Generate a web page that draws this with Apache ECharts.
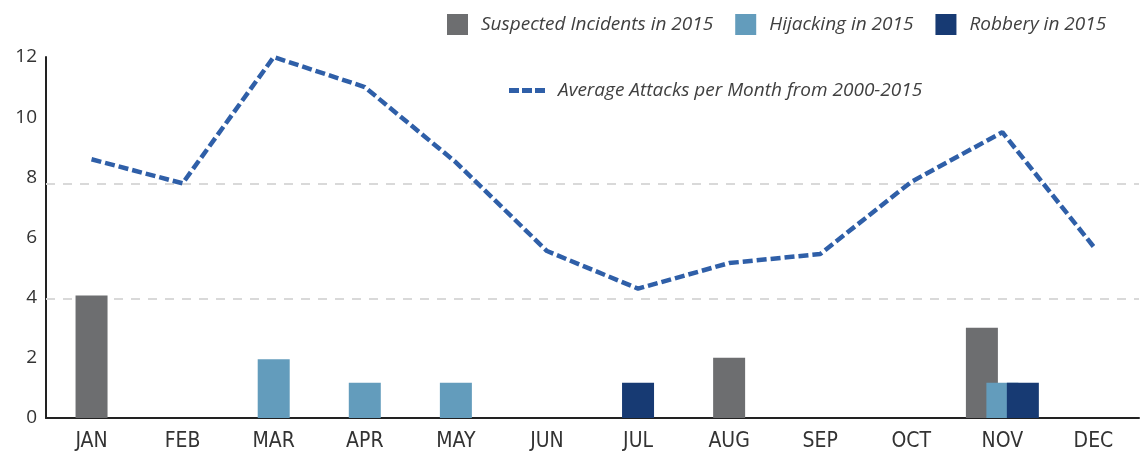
<!DOCTYPE html>
<html>
<head>
<meta charset="utf-8">
<script src="https://cdn.jsdelivr.net/npm/echarts@6/dist/echarts.min.js"></script>
<style>
html,body{margin:0;padding:0;background:#fff;}
#chart{width:1142px;height:452px;}
</style>
</head>
<body>
<div id="chart"></div>
<script>
const months = ['JAN','FEB','MAR','APR','MAY','JUN','JUL','AUG','SEP','OCT','NOV','DEC'];
const yTicks = [0, 2, 4, 6, 8, 10, 12];
const suspected = [4.07, null, null, null, null, null, null, 2.0, null, null, 3.0, null];
const hijacking = [null, null, 1.95, 1.17, 1.17, null, null, null, null, null, 1.17, null];
const robbery   = [null, null, null, null, null, null, 1.17, null, null, null, 1.17, null];
const avgAttacks = [8.6, 7.8, 12.0, 11.0, 8.5, 5.55, 4.3, 5.15, 5.45, 7.85, 9.5, 5.7];
const guideLines = [3.95, 7.78];
const groupedMonth = 'NOV';

const names = ['Suspected Incidents in 2015', 'Hijacking in 2015', 'Robbery in 2015'];
const lineName = 'Average Attacks per Month from 2000-2015';
const colors = ['#6d6e70', '#639cbc', '#173a73'];
const lineColor = '#2f5fa8';

const gi = months.indexOf(groupedMonth);
function single(arr){ return arr.map((v,i)=> i===gi ? null : v); }
function grouped(arr){ return arr.map((v,i)=> i===gi ? v : null); }

const bars = [suspected, hijacking, robbery];
const series = [];
// guide lines, drawn beneath bars
series.push({
  name: 'guides', type: 'line', data: [], z: 1, silent: true,
  markLine: {
    z: 1, silent: true, symbol: 'none', label: {show: false}, animation: false,
    lineStyle: {color: '#d9d9d9', width: 2, type: [9, 8]},
    data: guideLines.map(v => ({yAxis: v}))
  }
});
bars.forEach((arr, k) => {
  series.push({
    name: names[k], type: 'bar', xAxisIndex: 0, data: single(arr),
    barWidth: 32, barGap: '-100%', itemStyle: {color: colors[k]}, z: 3
  });
});
bars.forEach((arr, k) => {
  series.push({
    name: names[k], type: 'bar', xAxisIndex: 1, data: grouped(arr),
    barWidth: 32, barGap: '-36%', itemStyle: {color: colors[k]}, z: 3
  });
});
series.push({
  name: lineName, type: 'line', data: avgAttacks, symbol: 'none',
  lineStyle: {color: lineColor, width: 4.5, type: [10, 4]},
  itemStyle: {color: lineColor}, z: 6
});

const chart = echarts.init(document.getElementById('chart'));
const legendText = {fontFamily: 'Open Sans', fontStyle: 'italic', fontSize: 19, color: '#404040', padding: [0,0,0,8]};
chart.setOption({
  animation: false,
  legend: [
    {data: names, left: 442, top: 9, itemWidth: 21, itemHeight: 21, itemGap: 22,
     icon: 'rect', textStyle: legendText, selectedMode: false},
    {data: [{name: lineName, icon: 'path://M0,0h10v5h-10z M13,0h10v5h-10z M26,0h10v5h-10z'}],
     left: 504, top: 76, itemWidth: 36, itemHeight: 5, textStyle: legendText, selectedMode: false}
  ],
  grid: {left: 46, right: 3, top: 57, bottom: 34, containLabel: false},
  xAxis: [
    {type: 'category', data: months, boundaryGap: true,
     axisLine: {lineStyle: {color: '#222', width: 2}},
     axisTick: {inside: true, length: 7, lineStyle: {color: '#222', width: 2}},
     axisLabel: {fontFamily: "'Liberation Sans Narrow', 'DejaVu Sans Condensed', sans-serif", fontSize: 21, color: '#333', margin: 13}},
    {type: 'category', data: months, show: false, gridIndex: 0}
  ],
  yAxis: {type: 'value', min: 0, max: 12, interval: 2,
    axisLine: {show: true, lineStyle: {color: '#222', width: 2}},
    axisTick: {show: false}, splitLine: {show: false},
    axisLabel: {fontFamily: 'Open Sans', fontSize: 19, color: '#333', margin: 9,
      formatter: v => yTicks.includes(v) ? String(v) : ''}},
  series: series
});
</script>
</body>
</html>
